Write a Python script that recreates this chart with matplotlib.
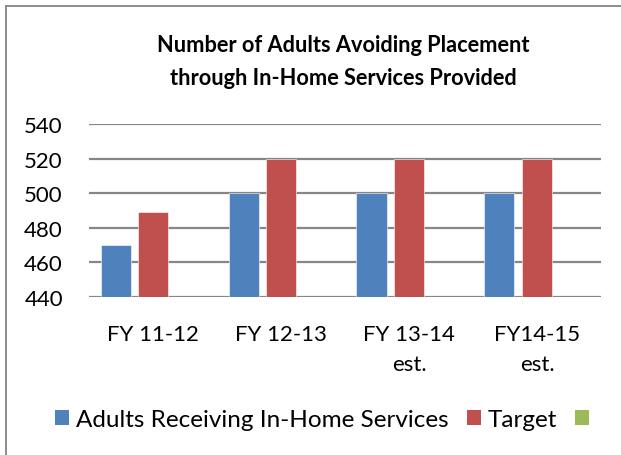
import matplotlib
matplotlib.use("Agg")
import matplotlib.pyplot as plt
from matplotlib.lines import Line2D
from matplotlib.patches import Patch
import numpy as np

plt.rcParams['font.family'] = ['Lato', 'DejaVu Sans']

categories = ['FY 11-12', 'FY 12-13', 'FY 13-14\nest.', 'FY14-15\nest.']
adults_served = [470, 500, 500, 500]
target = [489, 520, 520, 520]
third_series = [np.nan, np.nan, np.nan, np.nan]

series_names = ['Adults Receiving In-Home Services', 'Target', '']
colors = ['#4F81BD', '#C0504D', '#9BBB59']

W, H = 621, 456
fig = plt.figure(figsize=(W / 100, H / 100), dpi=100)

# axes box in pixel terms
left, right, top, bottom = 89.3, 601, 125, 297.7
ax = fig.add_axes([left / W, 1 - bottom / H, (right - left) / W, (bottom - top) / H])

x = np.arange(len(categories))
bw = 0.235
step = 0.294
for k, vals in enumerate([adults_served, target, third_series]):
    ax.bar(x + (k - 1) * step, vals, width=bw, bottom=0, color=colors[k],
           edgecolor='white', linewidth=0.4, zorder=3)

ax.set_ylim(440, 540)
ax.set_xlim(-0.5, len(categories) - 0.5)
ax.set_yticks([440, 460, 480, 500, 520, 540])
ax.yaxis.grid(True, color='#868686', linewidth=1.6, zorder=0)
ax.set_axisbelow(True)
for s in ax.spines.values():
    s.set_visible(False)
ax.tick_params(axis='both', length=0, labelsize=16, colors='black')
ax.tick_params(axis='y', pad=19)
ax.set_xticks(x)
ax.set_xticklabels(categories, linespacing=1.62)
ax.tick_params(axis='x', pad=20)

fig.text(343 / W, 1 - 85 / H,
         'Number of Adults Avoiding Placement\nthrough In-Home Services Provided',
         ha='center', va='baseline', fontsize=15.7, fontweight='bold',
         linespacing=1.68)

handles = [Patch(facecolor=c, edgecolor='none') for c in colors]
fig.legend(handles, series_names, loc='center left', bbox_to_anchor=(55 / W, 1 - 421 / H),
           ncol=3, frameon=False, fontsize=17.5, handlelength=0.58, handleheight=0.58,
           handletextpad=0.3, columnspacing=0.72, borderpad=0, borderaxespad=0)

# outer chart frame (cropped at right and bottom)
fig.add_artist(Line2D([6 / W, 6 / W], [0, 1 - 7 / H], color='#8c8c8c', linewidth=1.4))
fig.add_artist(Line2D([6 / W, 1], [1 - 7 / H, 1 - 7 / H], color='#8c8c8c', linewidth=1.4))

fig.savefig('out.png', dpi=100)
